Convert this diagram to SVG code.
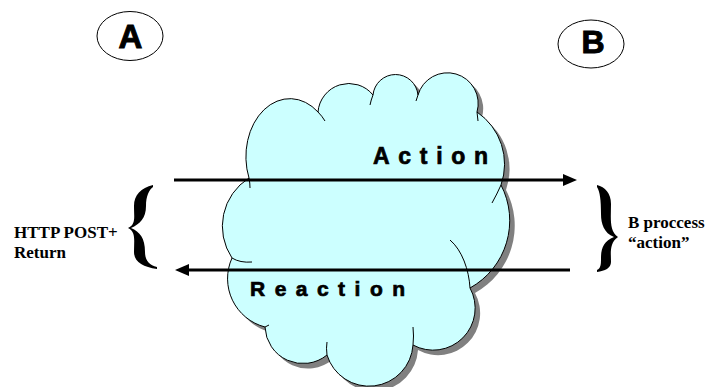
<svg xmlns="http://www.w3.org/2000/svg" width="718" height="387" viewBox="0 0 718 387">
  <style>
    .bubble { fill: #ffffff; stroke: #000000; stroke-width: 1; }
    .letter { font-family: "Liberation Sans", Arial, sans-serif; font-weight: bold; fill: #000000; stroke: #000000; stroke-width: 1; text-anchor: middle; }
    .flow { font-family: "Liberation Sans", Arial, sans-serif; font-weight: bold; fill: #000000; stroke: #000000; stroke-width: 0.7; }
    .note { font-family: "Liberation Serif", "Times New Roman", serif; font-weight: bold; font-size: 17px; fill: #000000; }
    .cloud { fill: #ccffff; stroke: #000000; stroke-width: 1; }
    .cloud-shadow { fill: #808080; stroke: none; }
    .fold { fill: none; stroke: #000000; stroke-width: 1; }
    .arrow { stroke: #000000; stroke-width: 3; fill: none; marker-end: url(#head); }
    .brace { fill: #000000; stroke: none; }
  </style>
  <defs>
    <marker id="head" markerUnits="userSpaceOnUse" markerWidth="14" markerHeight="12" refX="3" refY="6" orient="auto">
      <path d="M0,0 L14,6 L0,12 Z" fill="#000000"/>
    </marker>
    <path id="cloudShape" d="M249,178 A44,58 0 0 1 318,112 A31,31 0 0 1 373,95 A22.6,22.6 0 0 1 418,95 A30.7,30.7 0 0 1 477,112 A63,63 0 0 1 501,185 A77,77 0 0 1 470,288 A42,42 0 0 1 413,345 A44,44 0 0 1 327,355 A38,38 0 0 1 265,327 A50,50 0 0 1 232,258 A57,57 0 0 1 249,178 Z"/>
  </defs>

  <rect width="718" height="387" fill="#ffffff"/>

  <!-- network cloud -->
  <g id="cloud">
    <use href="#cloudShape" class="cloud-shadow" transform="translate(5,5)"/>
    <use href="#cloudShape" class="cloud"/>
    <path class="fold" d="M249,178 Q250,183 250,188"/>
    <path class="fold" d="M318,112 Q322,116 325,121"/>
    <path class="fold" d="M373,95 Q371,100 370,105"/>
    <path class="fold" d="M418,95 Q417,98 416,101"/>
    <path class="fold" d="M477,112 L478,121"/>
    <path class="fold" d="M501,185 Q497,194 492,203"/>
    <path class="fold" d="M470,288 C469,270 462,250 450,240"/>
    <path class="fold" d="M413,345 Q414,336 413,327"/>
    <path class="fold" d="M327,355 Q326,348 327,342"/>
    <path class="fold" d="M265,327 L269,325"/>
    <path class="fold" d="M232,258 Q240,263 252,262"/>
  </g>

  <!-- endpoint A -->
  <g id="nodeA">
    <ellipse class="bubble" cx="130" cy="36" rx="33" ry="24.5"/>
    <text class="letter" x="130.5" y="48" font-size="33">A</text>
  </g>

  <!-- endpoint B -->
  <g id="nodeB">
    <ellipse class="bubble" cx="591" cy="44" rx="33" ry="24"/>
    <text class="letter" x="593" y="53" font-size="32">B</text>
  </g>

  <!-- request / response flows -->
  <g id="connectors">
    <line class="arrow" x1="174" y1="180" x2="566" y2="180"/>
    <line class="arrow" x1="570" y1="270" x2="186" y2="270"/>
    <path class="brace" d="M153,185 C141,188 134,195 134,206 C134,218 136,224 128,228 C136,232 134,240 134,252 C134,262 143,267 157,269 L157,267 C149,265 145,260 145,252 C145,238 140,232 131,228 C140,224 146,218 146,206 C146,196 149,190 153,187 Z"/>
    <path class="brace" d="M597,185 C605,187 611,193 611,204 C611,218 609,231 618,237 C609,243 611,254 611,262 C611,268 605,271 597,272 L597,270 C601,268 601,264 601,258 C601,248 604,241 614,237 C604,233 601,224 601,214 C601,200 600,192 597,187 Z"/>
  </g>

  <g id="labels">
    <text class="flow" x="373" y="164" font-size="23" textLength="115" lengthAdjust="spacing">Action</text>
    <text class="flow" x="250" y="295.5" font-size="21" textLength="155" lengthAdjust="spacing">Reaction</text>
    <text class="note" x="14" y="238">HTTP POST+</text>
    <text class="note" x="14" y="258">Return</text>
    <text class="note" x="628" y="228" font-size="18.5">B proccess</text>
    <text class="note" x="628" y="248" font-size="18.5">“action”</text>
  </g>
</svg>
